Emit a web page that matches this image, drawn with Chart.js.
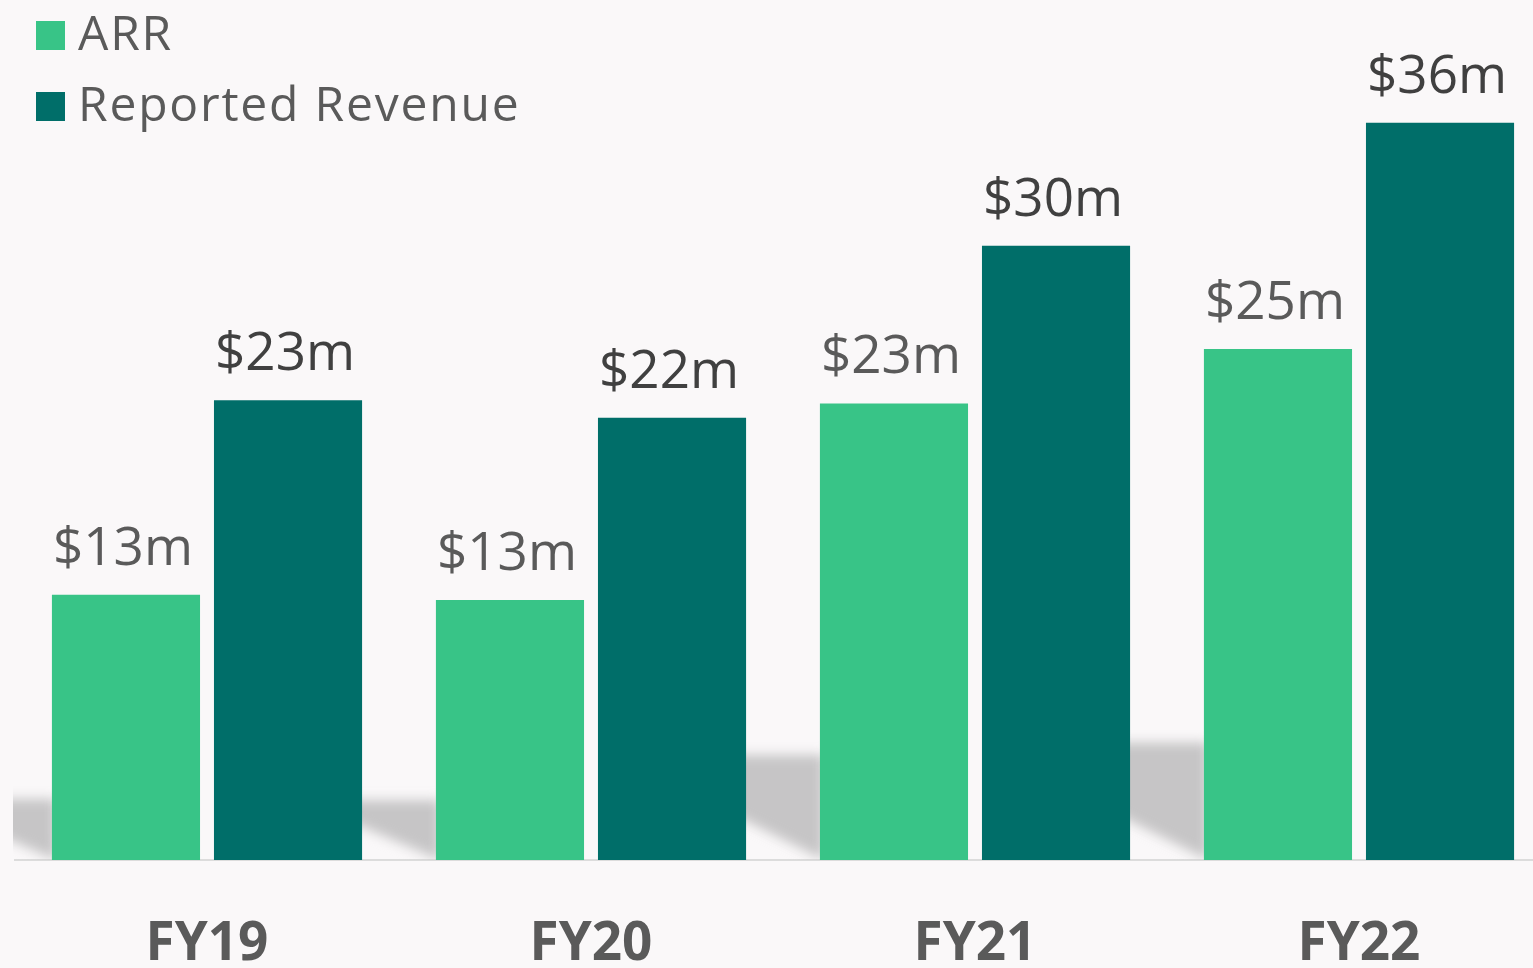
<!DOCTYPE html>
<html>
<head>
<meta charset="utf-8">
<script src="https://cdn.jsdelivr.net/npm/chart.js@4.4.0/dist/chart.umd.min.js"></script>
<style>
  html, body { margin: 0; padding: 0; background: #faf8f9; overflow: hidden; }
  #wrap { position: relative; width: 1551px; height: 968px; }
  #legend { position: absolute; left: 0; top: 0; font-family: "Open Sans", sans-serif; color: #5a5a5a; }
  .item { position: absolute; left: 36px; white-space: nowrap; }
  .box { position: absolute; left: 0; width: 29px; height: 29px; }
  .txt { position: absolute; left: 42px; font-size: 48px; line-height: 48px; top: -13px; letter-spacing: 1.8px; }
</style>
</head>
<body>
<div id="wrap">
  <canvas id="myChart"></canvas>
  <div id="legend"></div>
</div>
<script>
const categories = ["FY19", "FY20", "FY21", "FY22"];
const arrValues = [12.95, 12.7, 22.3, 24.95];
const revenueValues = [22.45, 21.6, 30.0, 36.0];
const arrLabels = ["$13m", "$13m", "$23m", "$25m"];
const revenueLabels = ["$23m", "$22m", "$30m", "$36m"];

const colors = ["#38c487", "#006e69"];
const labelColors = ["#5a5a5a", "#404040"];

// grey blurred shadow left of each ARR bar
const shadowPlugin = {
    id: "shadows",
    beforeDatasetsDraw(chart) {
        const ctx = chart.ctx;
        const arr = chart.getDatasetMeta(0).data;
        ctx.save();
        ctx.beginPath();
        ctx.rect(13, 0, chart.width, chart.chartArea.bottom);
        ctx.clip();
        ctx.filter = "blur(6px)";
        ctx.fillStyle = "#c6c5c6";
        arr.forEach((bar) => {
            const right = bar.x - bar.width / 2 + 4;
            const left = right - 140;
            const base = bar.base;
            const top = base - (base - bar.y) * 0.23;
            const y0 = base - 0.5 * (right - left);
            ctx.beginPath();
            ctx.moveTo(left, top);
            ctx.lineTo(right, top);
            ctx.lineTo(right, base);
            ctx.lineTo(left, Math.max(top, y0));
            ctx.closePath();
            ctx.fill();
        });
        ctx.restore();
    }
};

const valueLabelPlugin = {
    id: "valueLabels",
    afterDatasetsDraw(chart) {
        const ctx = chart.ctx;
        const texts = [arrLabels, revenueLabels];
        ctx.save();
        ctx.font = "53px 'Open Sans'";
        ctx.textAlign = "center";
        ctx.textBaseline = "alphabetic";
        chart.data.datasets.forEach((ds, d) => {
            ctx.fillStyle = labelColors[d];
            chart.getDatasetMeta(d).data.forEach((bar, i) => {
                ctx.fillText(texts[d][i], bar.x - 3, bar.y - 30);
            });
        });
        ctx.restore();
    }
};

const ctx = document.getElementById("myChart").getContext("2d");

const myChart = new Chart(ctx, {
    type: "bar",
    data: {
        labels: categories,
        datasets: [
            {
                label: "ARR",
                data: arrValues,
                backgroundColor: colors[0],
                categoryPercentage: 0.844,
                barPercentage: 0.914
            },
            {
                label: "Reported Revenue",
                data: revenueValues,
                backgroundColor: colors[1],
                categoryPercentage: 0.844,
                barPercentage: 0.914
            }
        ]
    },
    options: {
        responsive: true,
        maintainAspectRatio: false,
        animation: false,
        layout: { padding: { left: 15, right: 0, top: 0, bottom: 0 } },
        plugins: {
            legend: { display: false },
            tooltip: { enabled: false }
        },
        scales: {
            y: {
                display: false,
                min: 0,
                max: 42
            },
            x: {
                grid: { display: false, drawTicks: false },
                border: { display: true, color: "#dcdcdc", width: 2 },
                ticks: {
                    color: "#5a5a5a",
                    padding: 53,
                    font: { family: "'Open Sans'", size: 53, weight: "bold" }
                },
                afterFit(scale) { scale.height = 108; }
            }
        }
    },
    plugins: [shadowPlugin, valueLabelPlugin]
});

// html legend from the datasets
const legend = document.getElementById("legend");
myChart.data.datasets.forEach((ds, i) => {
    const item = document.createElement("div");
    item.className = "item";
    item.style.top = (21 + i * 71) + "px";
    item.innerHTML = '<div class="box" style="background:' + ds.backgroundColor + '"></div>' +
        '<div class="txt">' + ds.label + '</div>';
    legend.appendChild(item);
});
</script>
</body>
</html>
